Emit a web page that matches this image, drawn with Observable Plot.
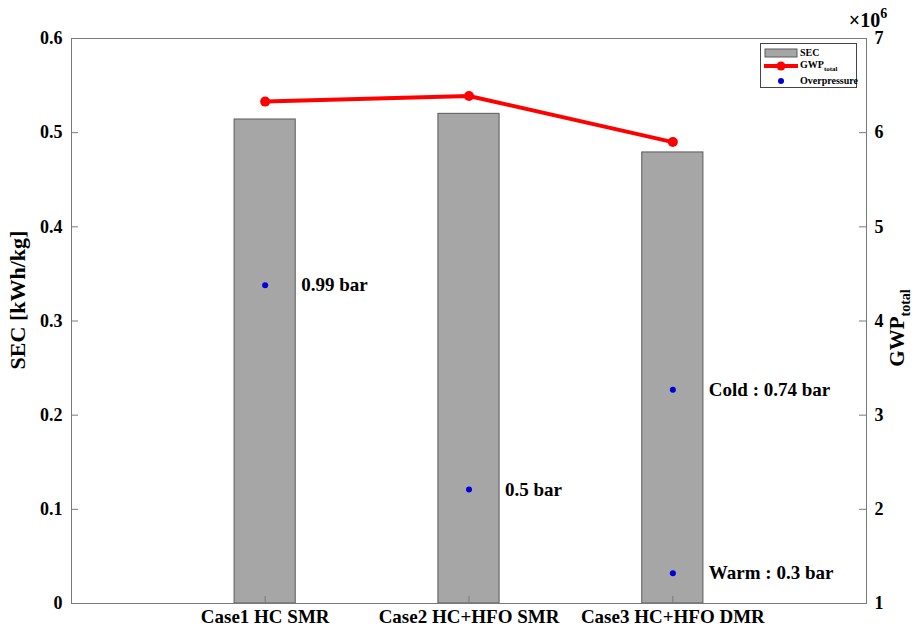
<!DOCTYPE html>
<html>
<head>
<meta charset="utf-8">
<script src="https://cdn.jsdelivr.net/npm/d3@7"></script>
<script src="https://cdn.jsdelivr.net/npm/@observablehq/plot@0.6"></script>
<style>
  html, body { margin: 0; padding: 0; background: #fff; }
  #wrap { position: relative; width: 921px; height: 629px; background: #fff; font-family: "Liberation Serif", "Times New Roman", serif; }
  #legend { position: absolute; left: 760px; top: 43px; width: 97px; height: 45px; border: 1px solid #444; background: #fff; box-sizing: border-box; font-weight: bold; font-size: 10px; color: #000; }
  #legend .row { position: absolute; left: 0; display: flex; align-items: center; }
  #legend svg { display: block; }
</style>
</head>
<body>
<div id="wrap"></div>
<script>
// ---- data ----
const categories = ["Case1 HC SMR", "Case2 HC+HFO SMR", "Case3 HC+HFO DMR"];
const secValues = [0.514, 0.520, 0.479];          // SEC [kWh/kg]
const gwpValues = [6.33, 6.39, 5.90];             // GWP_total (x10^6)
const opCase = [1, 2, 3, 3];                      // case index of each overpressure point
const opPosition = [0.338, 0.121, 0.227, 0.032];  // plotted height (SEC axis units)
const opLabels = ["0.99 bar", "0.5 bar", "Cold : 0.74 bar", "Warm : 0.3 bar"];
const secTicks = [0, 0.1, 0.2, 0.3, 0.4, 0.5, 0.6];
const gwpTicks = [1, 2, 3, 4, 5, 6, 7];

// ---- derived tables ----
const bars = categories.map((c, k) => ({i: k + 1, cat: c, sec: secValues[k], gwp: gwpValues[k]}));
const gwpMin = 1, gwpMax = 7, secMax = 0.6;
const gwpToY = g => (g - gwpMin) / (gwpMax - gwpMin) * secMax;
const yToGwp = y => y / secMax * (gwpMax - gwpMin) + gwpMin;
const ops = opCase.map((c, k) => ({i: c, y: opPosition[k], label: opLabels[k]}));

const W = 921, H = 629, mL = 71, mR = 55, mT = 38, mB = 26;
const pw = W - mL - mR, ph = H - mT - mB;
const axisColor = "#7a7a7a";
const tickLen = 7;

const plot = Plot.plot({
  width: W, height: H,
  marginLeft: mL, marginRight: mR, marginTop: mT, marginBottom: mB,
  style: {fontFamily: "'Liberation Serif', 'Times New Roman', serif", fontWeight: "bold", fontSize: "18px", background: "transparent", color: "#000"},
  x: {type: "linear", domain: [0.05, 3.95], axis: null},
  y: {domain: [0, secMax], axis: null},
  marks: [
    Plot.rectY(bars, {x1: d => d.i - 0.15, x2: d => d.i + 0.15, y1: 0, y2: "sec", fill: "#a6a6a6", stroke: "#5a5a5a", strokeWidth: 1}),
    // inward ticks
    Plot.tickY(secTicks, {y: d => d, stroke: axisColor, insetRight: pw - tickLen}),
    Plot.tickY(gwpTicks, {y: d => gwpToY(d), stroke: axisColor, insetLeft: pw - tickLen}),
    Plot.tickX([1, 2, 3], {x: d => d, stroke: axisColor, insetTop: ph - tickLen}),
    Plot.frame({stroke: axisColor, strokeWidth: 1}),
    Plot.axisY({anchor: "left", ticks: secTicks, tickFormat: d => d === 0 ? "0" : d.toFixed(1), tickSize: 0, tickPadding: 9, label: null, fontSize: 18}),
    Plot.axisY({anchor: "right", ticks: secTicks, tickFormat: d => String(Math.round(yToGwp(d))), tickSize: 0, tickPadding: 8, label: null, fontSize: 18}),
    Plot.axisX({ticks: [1, 2, 3], tickFormat: d => categories[d - 1], tickSize: 0, tickPadding: 6, label: null, fontSize: 19}),
    // GWP line
    Plot.line(bars, {x: "i", y: d => gwpToY(d.gwp), stroke: "#ff0000", strokeWidth: 4}),
    Plot.dot(bars, {x: "i", y: d => gwpToY(d.gwp), r: 5, fill: "#ff0000"}),
    // overpressure
    Plot.dot(ops, {x: "i", y: "y", r: 3, fill: "#0000dd"}),
    Plot.text(ops, {x: "i", y: "y", text: "label", dx: 36, textAnchor: "start", fontSize: 19, fontWeight: "bold", fill: "#000"})
  ]
});

const wrap = document.getElementById("wrap");
wrap.appendChild(plot);

// axis titles & exponent
const svg = d3.select(plot);
svg.append("text")
  .attr("transform", `translate(25,300) rotate(-90)`)
  .attr("text-anchor", "middle")
  .attr("font-size", 22).attr("font-weight", "bold")
  .attr("font-family", "'Liberation Serif', serif")
  .text("SEC [kWh/kg]");
const t2 = svg.append("text")
  .attr("transform", `translate(904,328) rotate(-90)`)
  .attr("text-anchor", "middle")
  .attr("font-size", 21).attr("font-weight", "bold")
  .attr("font-family", "'Liberation Serif', serif");
t2.append("tspan").text("GWP");
t2.append("tspan").attr("font-size", 14).attr("dy", 6).text("total");
const t3 = svg.append("text")
  .attr("x", W - mR + 2).attr("y", 27)
  .attr("font-size", 20)
  .attr("font-family", "'Liberation Serif', serif");
t3.append("tspan").text("×10");
t3.append("tspan").attr("font-size", 14).attr("dy", -9).text("6");

// legend
const lg = document.createElement("div");
lg.id = "legend";
lg.innerHTML = `
  <div class="row" style="top:3px;left:3px">
    <svg width="34" height="10"><rect x="1" y="1" width="32" height="8" fill="#a6a6a6" stroke="#5a5a5a" stroke-width="1"/></svg>
    <span style="margin-left:2px">SEC</span>
  </div>
  <div class="row" style="top:15px;left:3px">
    <svg width="34" height="12"><line x1="0" y1="6" x2="34" y2="6" stroke="#ff0000" stroke-width="4"/><circle cx="17" cy="6" r="4.5" fill="#ff0000"/></svg>
    <span style="margin-left:2px">GWP<sub style="font-size:7px">total</sub></span>
  </div>
  <div class="row" style="top:31px;left:3px">
    <svg width="34" height="10"><circle cx="17" cy="5" r="3" fill="#0000dd"/></svg>
    <span style="margin-left:2px">Overpressure</span>
  </div>`;
wrap.appendChild(lg);
</script>
</body>
</html>
